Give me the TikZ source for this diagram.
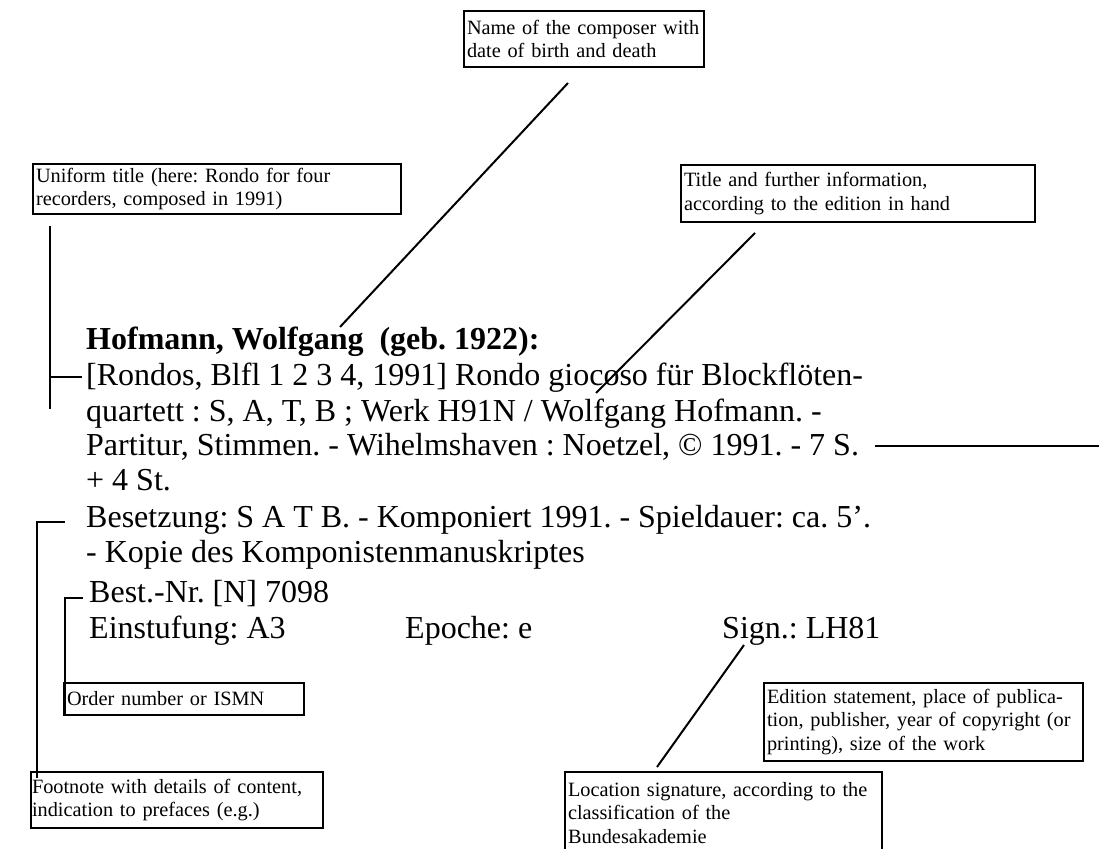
\documentclass[tikz,border=0pt]{standalone}
\usepackage{fontspec}
\setmainfont{Liberation Serif}
\frenchspacing
\begin{document}
\begin{tikzpicture}[x=1pt,y=-1pt,
	lbl/.style={draw, line width=2pt, anchor=north west, align=left,
		inner xsep=3pt, inner ysep=3pt, font=\fontsize{20.3}{23.8}\selectfont},
	rec/.style={anchor=base west, inner sep=0pt, font=\fontsize{32}{36}\selectfont},
	lead/.style={line width=2pt}]
	\useasboundingbox (0,0) rectangle (1099,848);
	\node[lbl, text width=234, minimum height=56] (composer) at (463,10) {\mbox{Name of the composer with}\\\mbox{date of birth and death}};
	\node[lbl, text width=362, minimum height=50] (uniform) at (32,163) {\mbox{Uniform title (here: Rondo for four}\\\mbox{recorders, composed in 1991)}};
	\node[lbl, text width=348, minimum height=57] (title) at (680,164) {\mbox{Title and further information,}\\\mbox{according to the edition in hand}};
	\node[lbl, text width=234, minimum height=32] (order) at (63,682) {\mbox{Order number or ISMN}};
	\node[lbl, text width=290, minimum height=56, inner xsep=1pt] (footnote) at (30,771) {\mbox{Footnote with details of content,}\\\mbox{indication to prefaces (e.g.)}};
	\node[lbl, text width=311, minimum height=82] (location) at (564,771) {\mbox{Location signature, according to the}\\\mbox{classification of the}\\\mbox{Bundesakademie}};
	\node[lbl, text width=313, minimum height=78] (edition) at (763,682) {\mbox{Edition statement, place of publica-}\\\mbox{tion, publisher, year of copyright (or}\\\mbox{printing), size of the work}};
	\node[rec, font=\fontsize{32}{36}\selectfont\bfseries] (l1) at (86,349) {Hofmann, Wolfgang\ \ (geb. 1922):};
	\node[rec] (l2) at (86,385) {[Rondos, Blfl 1 2 3 4, 1991] Rondo giocoso für Blockflöten-};
	\node[rec] (l3) at (86,421) {quartett : S, A, T, B ; Werk H91N / Wolfgang Hofmann. -};
	\node[rec] (l4) at (86,455) {Partitur, Stimmen. - Wihelmshaven : Noetzel, © 1991. - 7 S.};
	\node[rec] (l5) at (86,490) {+ 4 St.};
	\node[rec] (l6) at (86,527) {Besetzung: S A T B. - Komponiert 1991. - Spieldauer: ca. 5’.};
	\node[rec] (l7) at (86,562) {- Kopie des Komponistenmanuskriptes};
	\node[rec] (l8) at (89,602) {Best.-Nr. [N] 7098};
	\node[rec] (einst) at (89,638) {Einstufung: A3};
	\node[rec] (epoche) at (405,638) {Epoche: e};
	\node[rec] (sign) at (722,638) {Sign.: LH81};
	\coordinate (c1) at (568,83); \coordinate (c2) at (340,327);
	\coordinate (t1) at (755,233); \coordinate (t2) at (596,393);
	\coordinate (s1) at (744,645); \coordinate (s2) at (657,767);
	\coordinate (u1) at (50,226); \coordinate (u2) at (50,409);
	\coordinate (f0) at (65,522); \coordinate (f1) at (37,778);
	\coordinate (o0) at (83,598); \coordinate (o1) at (65,714);
	\coordinate (ed) at (1099,446);
	\draw[lead] (c1) -- (c2);
	\draw[lead] (t1) -- (t2);
	\draw[lead] (s1) -- (s2);
	\draw[lead] (u1) -- (u2) (u1 |- l2.west) -- ([xshift=-4pt]l2.west);
	\draw[lead] (f0) -| (f1);
	\draw[lead] (o0) -| (o1);
	\draw[lead] ([xshift=16pt]l4.east) -- (l4.east -| ed);
\end{tikzpicture}
\end{document}
